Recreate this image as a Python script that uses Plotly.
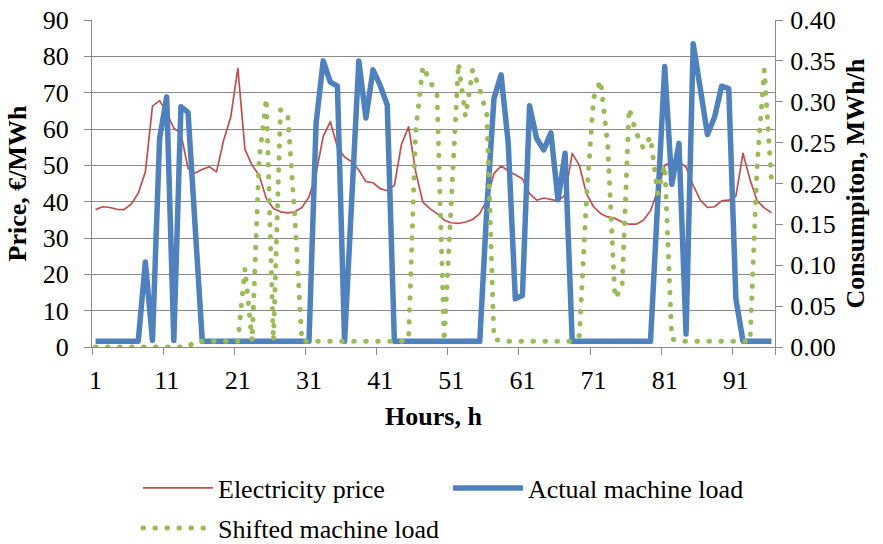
import plotly.graph_objects as go

# Hourly series over a 96-hour horizon
hours = list(range(1, 97))

electricity_price = [
    37.8, 38.6, 38.4, 37.9, 37.8, 39.3, 42.3, 48.2, 66.3, 67.8,
    64.5, 60.2, 58.8, 49.1, 47.9, 48.9, 49.6, 48.2, 56.9, 63.2,
    76.7, 54.4, 50.0, 47.3, 40.9, 38.1, 37.2, 36.9, 37.2, 38.4,
    41.3, 47.8, 58.0, 62.0, 55.0, 52.3, 51.0, 48.7, 45.5, 45.2,
    43.6, 43.0, 44.5, 55.8, 60.6, 48.2, 39.9, 38.1, 36.7, 34.9,
    34.2, 34.0, 34.4, 35.1, 36.7, 40.4, 47.8, 49.8, 48.5, 47.3,
    46.3, 42.2, 40.4, 41.0, 40.6, 40.2, 41.8, 53.3, 50.0, 42.2,
    38.6, 36.7, 35.8, 35.4, 34.4, 33.8, 33.8, 34.9, 37.5, 43.0,
    50.0, 51.0, 51.0, 49.5, 44.5, 40.4, 38.4, 38.6, 40.2, 40.4,
    41.5, 53.3, 46.0, 40.2, 38.3, 36.9,
]

actual_load = [
    0.007, 0.007, 0.007, 0.007, 0.007, 0.007, 0.007, 0.104, 0.008, 0.255,
    0.306, 0.008, 0.294, 0.287, 0.140, 0.007, 0.007, 0.007, 0.007, 0.007,
    0.007, 0.007, 0.007, 0.007, 0.007, 0.007, 0.007, 0.007, 0.007, 0.007,
    0.007, 0.274, 0.350, 0.324, 0.319, 0.007, 0.178, 0.350, 0.280, 0.339,
    0.320, 0.296, 0.007, 0.007, 0.007, 0.007, 0.007, 0.007, 0.007, 0.007,
    0.007, 0.007, 0.007, 0.007, 0.007, 0.170, 0.304, 0.333, 0.250, 0.059,
    0.063, 0.295, 0.255, 0.241, 0.262, 0.180, 0.237, 0.007, 0.007, 0.007,
    0.007, 0.007, 0.007, 0.007, 0.007, 0.007, 0.007, 0.007, 0.007, 0.175,
    0.343, 0.199, 0.249, 0.016, 0.371, 0.316, 0.260, 0.281, 0.319, 0.316,
    0.059, 0.007, 0.007, 0.007, 0.007, 0.007,
]

shifted_load = [
    0.0, 0.0, 0.0, 0.0, 0.0, 0.0, 0.0, 0.0, 0.0, 0.0,
    0.0, 0.0, 0.0, 0.0, 0.007, 0.007, 0.007, 0.007, 0.007, 0.007,
    0.007, 0.096, 0.007, 0.230, 0.304, 0.007, 0.290, 0.285, 0.160, 0.007,
    0.007, 0.007, 0.007, 0.007, 0.007, 0.007, 0.007, 0.007, 0.007, 0.007,
    0.007, 0.007, 0.007, 0.007, 0.010, 0.265, 0.343, 0.327, 0.308, 0.007,
    0.180, 0.347, 0.282, 0.339, 0.316, 0.284, 0.010, 0.007, 0.007, 0.007,
    0.007, 0.007, 0.007, 0.007, 0.007, 0.007, 0.007, 0.007, 0.014, 0.180,
    0.305, 0.326, 0.245, 0.060, 0.072, 0.292, 0.262, 0.243, 0.257, 0.188,
    0.222, 0.010, 0.007, 0.007, 0.007, 0.007, 0.007, 0.007, 0.007, 0.007,
    0.007, 0.007, 0.007, 0.225, 0.339, 0.204,
]

x_labels = [str(h) for h in hours[::10]]
y_left_range = [0, 90]
y_right_range = [0, 0.40]

FONT = "Liberation Serif"
FS = 26
GRID = "#8a8a8a"

fig = go.Figure()

fig.add_trace(go.Scatter(
    x=hours, y=electricity_price, name="Electricity price", mode="lines",
    line=dict(color="#C0504D", width=1.7), yaxis="y", legend="legend",
))
fig.add_trace(go.Scatter(
    x=hours, y=actual_load, name="Actual machine load", mode="lines",
    line=dict(color="#4F81BD", width=5.5), yaxis="y2", legend="legend",
))
fig.add_trace(go.Scatter(
    x=hours, y=shifted_load, name="Shifted machine load", mode="lines",
    line=dict(color="#9BBB59", width=5, dash="0.5px,11.5px"), yaxis="y2",
    legend="legend2",
))

# tick marks sit on the category boundaries, labels on every tenth hour
boundaries = [h - 0.5 for h in hours[::10]] + [hours[-1] + 0.5]

legend_style = dict(
    orientation="h", xref="container", yref="container",
    xanchor="left", yanchor="middle",
    font=dict(family=FONT, size=FS, color="black"),
    itemwidth=70, entrywidth=225, bgcolor="rgba(0,0,0,0)",
)

fig.update_layout(
    width=883, height=544,
    margin=dict(l=92, r=108, t=20, b=197, autoexpand=False),
    paper_bgcolor="white", plot_bgcolor="white",
    font=dict(family=FONT, size=FS, color="black"),
    showlegend=True,
    legend=dict(legend_style, x=138 / 883, y=1 - 488 / 544),
    legend2=dict(legend_style, x=138 / 883, y=1 - 528 / 544),
    xaxis=dict(
        range=[0.5, 96.5], tickmode="array", tickvals=hours[::10], ticktext=x_labels,
        ticks="", showgrid=False, zeroline=False,
        showline=True, linecolor=GRID, linewidth=1.3,
        ticklabelstandoff=10,
        minor=dict(tickmode="array", tickvals=boundaries, ticks="outside",
                   ticklen=7, tickwidth=1.3, tickcolor=GRID, showgrid=False),
        title=dict(text="<b>Hours, h</b>", standoff=12,
                   font=dict(family=FONT, size=FS)),
        tickfont=dict(family=FONT, size=FS),
    ),
    yaxis=dict(
        range=y_left_range, dtick=10, tick0=0,
        showgrid=True, gridcolor=GRID, gridwidth=1.3, zeroline=False,
        showline=True, linecolor=GRID, linewidth=1.3,
        ticks="outside", ticklen=7, tickwidth=1.3, tickcolor=GRID,
        ticklabelstandoff=10,
        title=dict(text="<b>Price, €/MWh</b>", standoff=8,
                   font=dict(family=FONT, size=FS)),
        tickfont=dict(family=FONT, size=FS),
    ),
    yaxis2=dict(
        range=y_right_range, dtick=0.05, tick0=0, tickformat=".2f",
        overlaying="y", side="right", showgrid=False, zeroline=False,
        showline=True, linecolor=GRID, linewidth=1.3,
        ticks="outside", ticklen=7, tickwidth=1.3, tickcolor=GRID,
        ticklabelstandoff=2,
        title=dict(text="<b>Consumpiton, MWh/h</b>", standoff=10,
                   font=dict(family=FONT, size=FS)),
        tickfont=dict(family=FONT, size=FS),
    ),
)

# round line joins everywhere, and round caps so the dotted series draws dots
round_style = (
    "var s=document.createElement('style');"
    "s.textContent='path.js-line{stroke-linejoin:round}"
    " path.js-line[style*=\"dasharray\"]{stroke-linecap:round}';"
    "document.head.appendChild(s);"
)

fig.write_html("out.html", post_script=round_style)
